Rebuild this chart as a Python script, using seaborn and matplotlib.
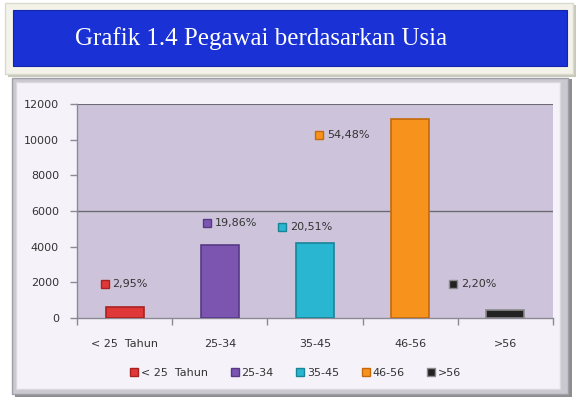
import numpy as np
import pandas as pd
import seaborn as sns
import matplotlib.pyplot as plt
from matplotlib.patches import Rectangle
from matplotlib.transforms import ScaledTranslation

sns.set_theme(style="white")
plt.rcParams['font.family'] = ['DejaVu Sans']

# data
groups = ['< 25  Tahun', '25-34', '35-45', '46-56', '>56']
employees = [605, 4068, 4202, 11160, 451]
shares = [2.95, 19.86, 20.51, 54.48, 2.20]
colors = ['#e03838', '#7b55b0', '#28b6d0', '#f7921c', '#222222']
edges = ['#a82222', '#563a85', '#1a8499', '#c46a0c', '#8a8a8a']

# label offsets (pixels) from the top of each bar
label_dx = [-24, -17, -37, -95, -56]
label_dy = [23, 22, 16, -16, 26]

df = pd.DataFrame({'group': groups, 'count': employees})

fig = plt.figure(figsize=(5.81, 4.0), dpi=100)
fig.patch.set_facecolor('white')

# outer frame of the chart
fig.patches.append(Rectangle((15 / 581, 1 - 397 / 400), 557 / 581, 318 / 400,
                             transform=fig.transFigure, facecolor='#8e8e8e',
                             edgecolor='none', zorder=0))
fig.patches.append(Rectangle((12 / 581, 1 - 394 / 400), 556 / 581, 316 / 400,
                             transform=fig.transFigure, facecolor='#c9c9cf',
                             edgecolor='#a0a0a8', lw=1, zorder=0))
fig.patches.append(Rectangle((16 / 581, 1 - 389 / 400), 544 / 581, 307 / 400,
                             transform=fig.transFigure, facecolor='#f6f2fa',
                             edgecolor='#dcd8e2', lw=1, zorder=0))

# title banner
fig.patches.append(Rectangle((8 / 581, 1 - 77 / 400), 568 / 581, 72 / 400,
                             transform=fig.transFigure, facecolor='#c8c8bc',
                             edgecolor='none', zorder=1))
fig.patches.append(Rectangle((5 / 581, 1 - 74 / 400), 568 / 581, 71 / 400,
                             transform=fig.transFigure, facecolor='#f3f3ea',
                             edgecolor='#dadacc', lw=1, zorder=1))
fig.patches.append(Rectangle((13 / 581, 1 - 66 / 400), 554 / 581, 56 / 400,
                             transform=fig.transFigure, facecolor='#1a31d6',
                             edgecolor='#1424a8', lw=0.8, zorder=2))
fig.text(261 / 581, 1 - 39 / 400, 'Grafik 1.4 Pegawai berdasarkan Usia',
         ha='center', va='center', color='white', fontsize=18,
         family=['Liberation Serif', 'DejaVu Serif'], zorder=3)

ax = fig.add_axes([77 / 581, 1 - 318 / 400, 476 / 581, 214 / 400])
ax.set_zorder(4)
sns.barplot(data=df, x='group', y='count', hue='group', palette=colors,
            saturation=1, width=0.4, legend=False, ax=ax, zorder=3)
for bar, ec in zip(ax.patches, edges):
    bar.set_edgecolor(ec)
    bar.set_linewidth(1.2)

ax.set_facecolor('#cdc4db')
ax.set_ylim(0, 12000)
ax.set_xlim(-0.5, len(groups) - 0.5)
ax.set_yticks(np.arange(0, 12001, 2000))
ax.axhline(6000, color='#6e6a74', lw=1, zorder=1)
ax.axhline(12000, color='#6e6a74', lw=1.5, zorder=1)
ax.set_xlabel('')
ax.set_ylabel('')

for side in ['top', 'right']:
    ax.spines[side].set_visible(False)
for side in ['left', 'bottom']:
    ax.spines[side].set_color('#8c8894')
    ax.spines[side].set_linewidth(1)

ax.tick_params(axis='y', left=True, length=5, width=1, color='#8c8894',
               labelsize=8, labelcolor='#333333', pad=8)
ax.tick_params(axis='x', bottom=False, labelsize=8, labelcolor='#333333', pad=9)
ax.set_xticks(np.arange(-0.5, len(groups), 1), minor=True)
ax.tick_params(axis='x', which='minor', bottom=True, length=5, width=1,
               color='#8c8894')

# data labels: small key square plus the share
for i, (v, s, c, ec, dx, dy) in enumerate(zip(employees, shares, colors, edges,
                                              label_dx, label_dy)):
    off = ScaledTranslation((dx + 4) / 100, dy / 100, fig.dpi_scale_trans)
    ax.plot(i, v, marker='s', markersize=5.5, color=c, markeredgecolor=ec,
            transform=ax.transData + off, clip_on=False, zorder=5)
    ax.annotate(f'{s:.2f}%'.replace('.', ','), xy=(i, v),
                xytext=(dx + 12, dy), textcoords='offset pixels',
                ha='left', va='center', fontsize=8, color='#333333',
                annotation_clip=False, zorder=5)

# legend at the bottom
handles = [plt.Line2D([], [], marker='s', linestyle='none', markersize=5.5,
                      color=c, markeredgecolor=ec)
           for c, ec in zip(colors, edges)]
fig.legend(handles, groups, loc='center', bbox_to_anchor=(295 / 581, 1 - 373 / 400),
           ncol=5, frameon=False, fontsize=8, handletextpad=0.1,
           columnspacing=1.9, labelcolor='#333333', handlelength=1)

fig.savefig('out.png', dpi=100)
